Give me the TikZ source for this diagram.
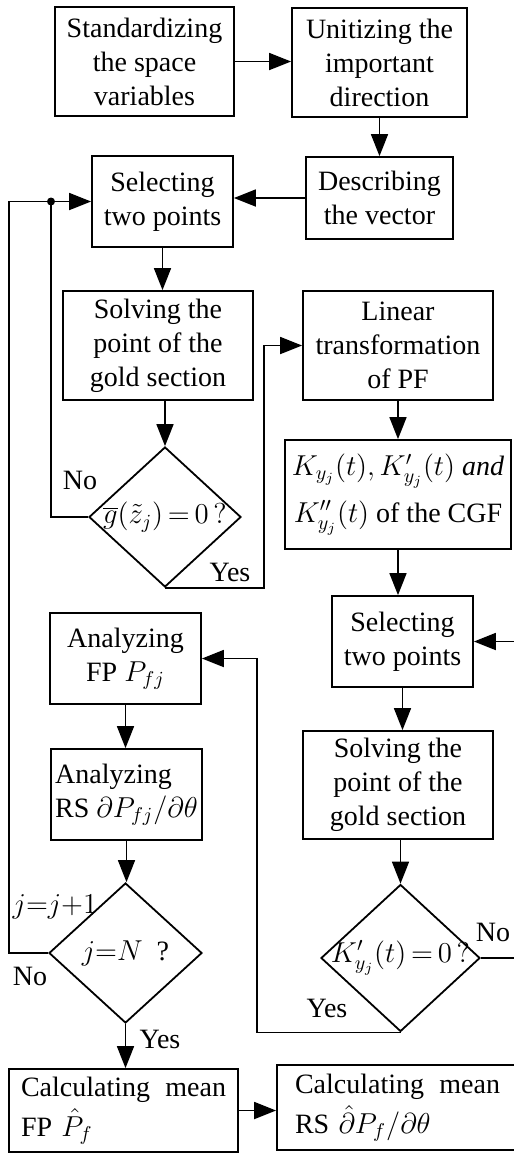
\documentclass[tikz,border=0pt]{standalone}
\usepackage{fontspec}
\setmainfont{Liberation Serif}
\usetikzlibrary{shapes.geometric,arrows.meta}

\tikzset{
  stepbox/.style={draw, line width=0.9pt, align=center, inner sep=0pt},
  testbox/.style={draw, diamond, line width=0.9pt, inner sep=0pt},
  flow/.style={line width=0.9pt, -{Triangle[length=11pt,width=8.5pt]}},
  link/.style={line width=0.9pt},
}
\newcommand{\testtext}[1]{\makebox[0pt]{#1}}

\begin{document}
\begin{tikzpicture}[x=0.5pt, y=-0.5pt, font=\fontsize{14pt}{17pt}\selectfont]
    \useasboundingbox (0,0) rectangle (514,1153);
    \clip (0,0) rectangle (514,1153);

    % Boxes (top part)
    \node[stepbox, minimum width=89.5pt, minimum height=54.5pt] (std) at (144.5,61.5) {Standardizing\\the space\\variables};
    \node[stepbox, minimum width=87.5pt, minimum height=54.5pt] (unit) at (379.5,62.5) {Unitizing the\\important\\direction};
    \node[stepbox, minimum width=73.5pt, minimum height=41pt] (desc) at (379.5,198) {Describing\\the vector};
    \node[stepbox, minimum width=70.5pt, minimum height=45.5pt] (sel1) at (162.5,201.5) {Selecting\\two points};
    \node[stepbox, minimum width=95pt, minimum height=54.5pt] (sol1) at (158,345.5) {Solving the\\point of the\\gold section};
    \node[testbox, minimum width=76pt, minimum height=70pt] (dia1) at (165,517) {\testtext{$\overline{g}(\tilde{z}_j)\,{=}\,0\,?$}};

    % Boxes (right column)
    \node[stepbox, minimum width=95pt, minimum height=54.5pt] (lin) at (398,345.5) {Linear\\transformation\\of PF};
    \node[stepbox, minimum width=113pt, minimum height=54.5pt] (kbox) at (398,494.5) {$K_{y_j}(t),K'_{y_j}(t)$ \textit{and}\\[5pt]$K''_{y_j}(t)$ of the CGF};
    \node[stepbox, minimum width=70.5pt, minimum height=45.5pt] (sel2) at (402.5,641.5) {Selecting\\two points};
    \node[stepbox, minimum width=95pt, minimum height=54pt] (sol2) at (398,785) {Solving the\\point of the\\gold section};
    \node[testbox, minimum width=79.5pt, minimum height=73.5pt] (dia2) at (400.5,958) {\testtext{$K'_{y_j}(t)\,{=}\,0\,?$}};

    % Boxes (left column)
    \node[stepbox, minimum width=75.5pt, minimum height=45.5pt] (ana1) at (125.5,658.5) {Analyzing\\FP $P_{fj}$};
    \node[stepbox, minimum width=75.5pt, minimum height=45.5pt, align=left] (ana2) at (126.5,794.5) {Analyzing\\RS $\partial P_{fj}\big/\partial\theta$};
    \node[testbox, minimum width=76.5pt, minimum height=70pt] (dia3) at (125.5,953) {\testtext{$j{=}N$\ \ ?}};

    % Boxes (bottom)
    \node[stepbox, minimum width=114.5pt, minimum height=41.5pt, text width=102.5pt, align=left] (calc1) at (123.5,1110.5) {Calculating\hfill mean\\[3pt]FP $\hat{P}_f$};
    \node[stepbox, minimum width=120.5pt, minimum height=42.5pt, text width=102.5pt, align=left, xshift=-6pt] (calc2) at (409.5,1107.5) {Calculating\hfill mean\\[3pt]RS $\hat{\partial}P_f\big/\partial\theta$};

    % Turning points
    \coordinate (jn) at (51,0);
    \coordinate (lp) at (9,0);
    \coordinate (yes1) at (264,0);
    \coordinate (yes2) at (257,0);
    \coordinate (rt) at (530,0);

    % Edges
    \draw[flow] (std.east) -- (std.east -| unit.west);
    \draw[flow] (unit.south) -- (desc.north);
    \draw[flow] (desc.west) -- (desc.west -| sel1.east);
    \draw[flow] (sel1.south) -- (sel1.south |- sol1.north);
    \draw[flow] (sol1.south -| dia1.north) -- (dia1.north);
    \draw[link] (dia1.west) -| (jn |- sel1.west);
    \fill (jn |- sel1.west) circle (4);
    \draw[flow] (dia1.south) -| (yes1 |- lin.west) -- (lin.west);
    \draw[flow] (lin.south) -- (kbox.north);
    \draw[flow] (kbox.south) -- (kbox.south |- sel2.north);
    \draw[flow] (sel2.south) -- (sel2.south |- sol2.north);
    \draw[flow] (sol2.south -| dia2.north) -- (dia2.north);
    \draw[flow] (dia2.east) -| (rt |- sel2.east) -- (sel2.east);
    \draw[flow] (dia2.south) -| (yes2 |- ana1.east) -- (ana1.east);
    \draw[flow] (ana1.south) -- (ana1.south |- ana2.north);
    \draw[flow] (ana2.south) -- (ana2.south |- dia3.north);
    \draw[flow] (dia3.west) -| (lp |- sel1.west) -- (sel1.west);
    \draw[flow] (dia3.south) -- (dia3.south |- calc1.north);
    \draw[flow] (calc1.east) -- (calc1.east -| calc2.west);

    % Branch labels
    \node (no1) at (80,480) {No};
    \node (yes1l) at (230,572) {Yes};
    \node (inc) at (55,907) {$j{=}j{+}1$};
    \node (no3) at (30,976) {No};
    \node (yes3) at (160,1039) {Yes};
    \node (no2) at (493,932) {No};
    \node (yes2l) at (327,1008) {Yes};
\end{tikzpicture}
\end{document}
